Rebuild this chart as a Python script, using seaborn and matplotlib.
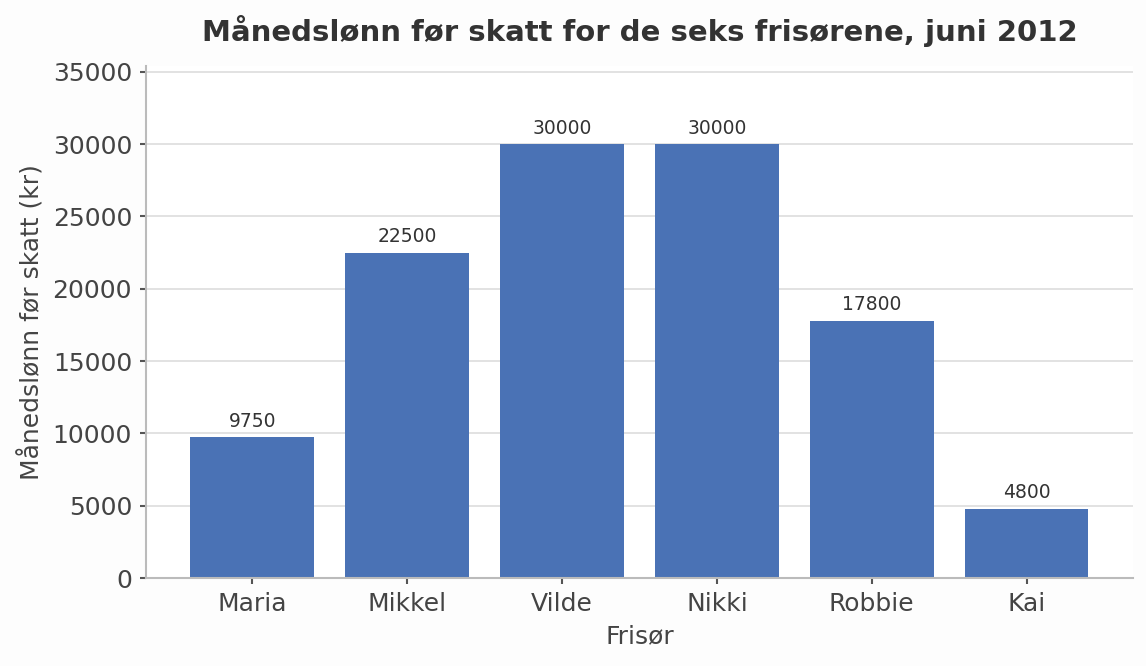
import matplotlib
matplotlib.use('Agg')
import matplotlib.pyplot as plt
import seaborn as sns
import pandas as pd

# Månedslønn per frisør, juni 2012
frisorer = ['Maria', 'Mikkel', 'Vilde', 'Nikki', 'Robbie', 'Kai']
lonn = [9750, 22500, 30000, 30000, 17800, 4800]

df = pd.DataFrame({'Frisør': frisorer, 'Lønn': lonn})

sns.set_theme(style='whitegrid')
plt.rcParams['font.family'] = ['DejaVu Sans']
plt.rcParams['text.color'] = '#333333'
plt.rcParams['axes.labelcolor'] = '#444444'
plt.rcParams['xtick.color'] = '#444444'
plt.rcParams['ytick.color'] = '#444444'

fig, ax = plt.subplots(figsize=(7.64, 4.44), dpi=150)
fig.patch.set_facecolor('#fdfdfd')
ax.set_facecolor('white')

sns.barplot(data=df, x='Frisør', y='Lønn', color='#4a72b5', saturation=1,
            width=0.8, linewidth=0, ax=ax)

for p, v in zip(ax.patches, lonn):
    ax.annotate(f'{v}', (p.get_x() + p.get_width() / 2, p.get_height()),
                xytext=(0, 3), textcoords='offset points',
                ha='center', va='bottom', fontsize=9, color='#333333')

ax.set_xlim(-0.69, 5.69)
ax.set_ylim(0, max(lonn) * 1.18)
ax.set_yticks(range(0, 35001, 5000))
ax.set_title('Månedslønn før skatt for de seks frisørene, juni 2012',
             fontsize=14, fontweight='bold', color='#333333', pad=12)
ax.set_xlabel('Frisør', fontsize=12)
ax.set_ylabel('Månedslønn før skatt (kr)', fontsize=12)
ax.tick_params(axis='both', labelsize=12, length=3, width=1, color='#555555', left=True, bottom=True)
ax.grid(axis='y', color='#dddddd', linewidth=0.8)
ax.grid(axis='x', visible=False)
ax.set_axisbelow(True)
for side in ['top', 'right']:
    ax.spines[side].set_visible(False)
for side in ['left', 'bottom']:
    ax.spines[side].set_color('#bbbbbb')
    ax.spines[side].set_linewidth(1)

plt.subplots_adjust(left=0.127, right=0.989, top=0.901, bottom=0.132)
plt.savefig('out.png', dpi=150, facecolor=fig.get_facecolor())
